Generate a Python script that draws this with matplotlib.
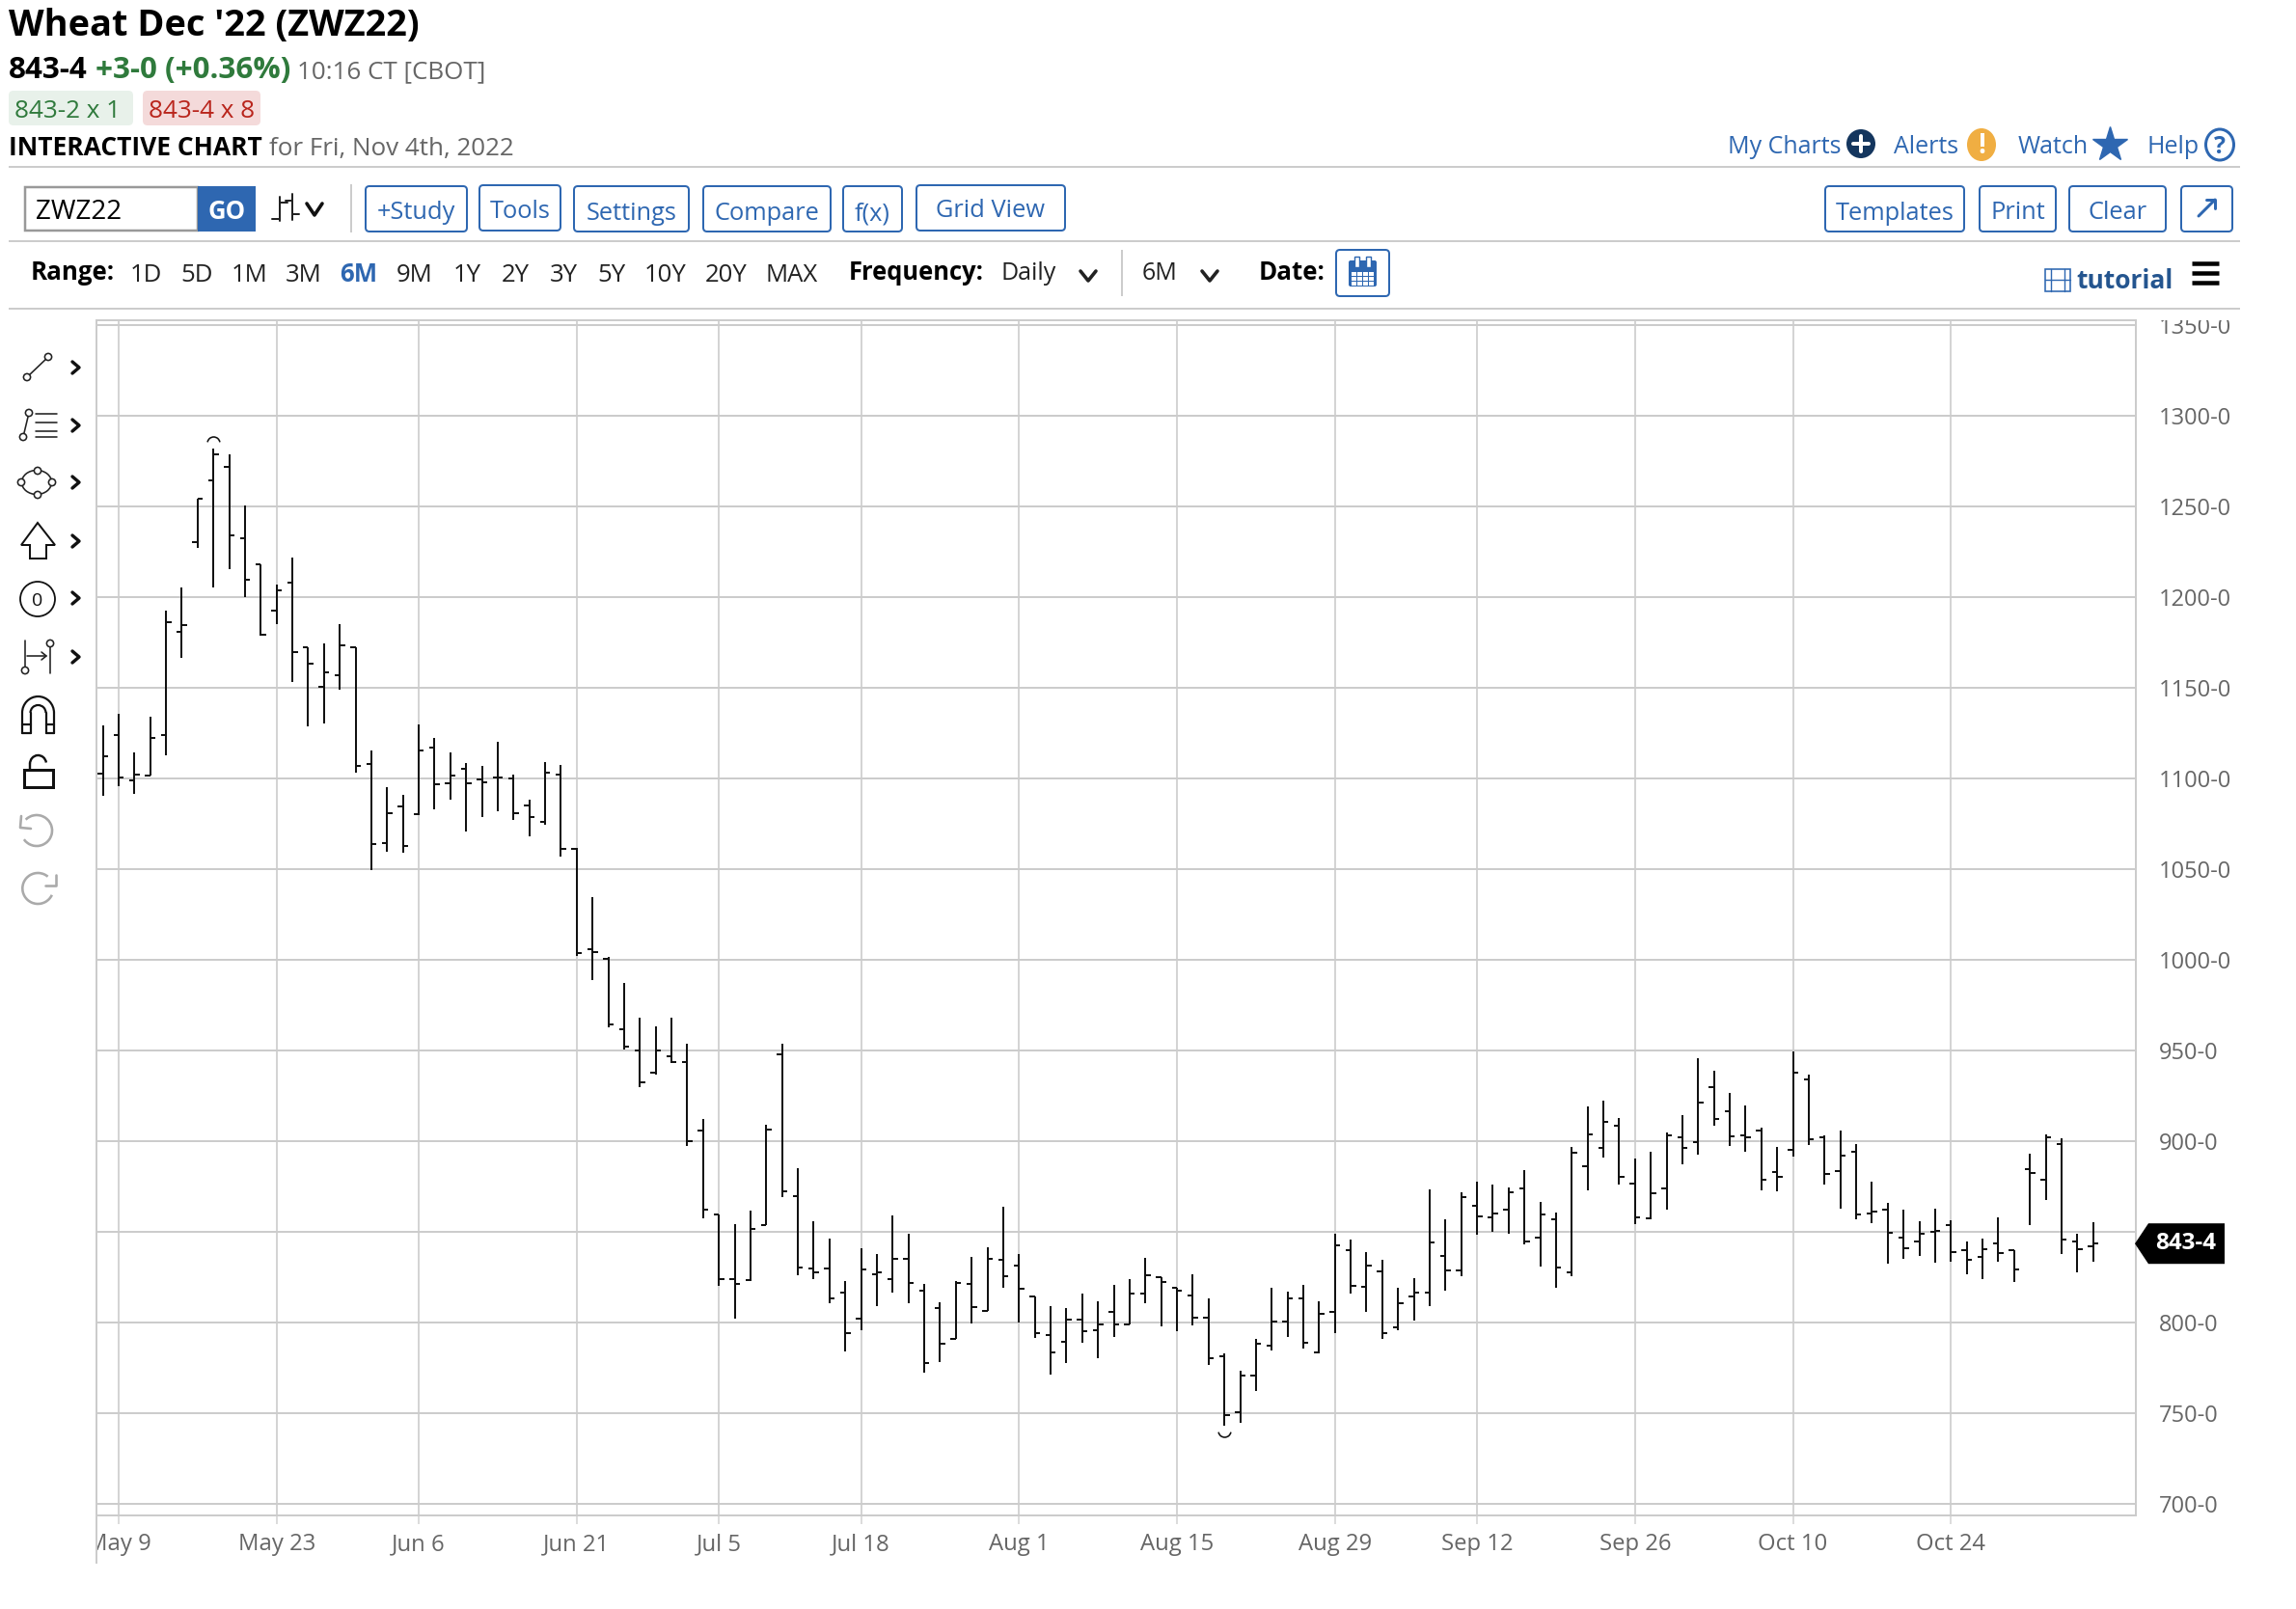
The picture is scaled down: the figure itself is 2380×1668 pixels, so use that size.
import matplotlib
matplotlib.use('Agg')
import matplotlib.pyplot as plt
from matplotlib.patches import Rectangle, FancyBboxPatch, Circle, Ellipse, Polygon, Arc
from matplotlib.path import Path
from matplotlib.transforms import IdentityTransform

plt.rcParams['font.family'] = ['Open Sans', 'DejaVu Sans']

# Daily bars, May 6 to Nov 4 2022
opens = [1102.4, 1123.9, 1098.7, 1101.7, 1123.9, 1180.6, 1230.4, 1264.6, 1272.0, 1232.5,
         1218.1, 1192.8, 1208.0, 1172.2, 1150.3, 1156.8, 1172.2, 1108.1, 1064.5, 1084.5,
         1080.1, 1117.0, 1097.6, 1105.4, 1099.6, 1100.3, 1099.9, 1084.9, 1075.8, 1102.1,
         1061.3, 1005.8, 1000.6, 961.9, 950.0, 938.0, 946.7, 943.7, 905.7, 859.6,
         824.0, 823.2, 853.9, 948.1, 869.9, 830.0, 830.0, 816.7, 802.3, 826.6,
         824.1, 835.0, 817.5, 808.0, 791.1, 821.1, 806.5, 834.4, 831.5, 814.3,
         792.9, 789.5, 801.6, 796.0, 806.0, 798.9, 816.1, 824.8, 819.1, 814.7,
         802.5, 781.4, 750.7, 770.9, 787.0, 800.3, 813.1, 783.7, 805.7, 840.1,
         819.7, 828.2, 797.1, 814.3, 816.3, 836.7, 828.7, 864.5, 857.8, 862.2,
         873.7, 846.6, 857.1, 827.5, 886.4, 896.5, 908.7, 876.8, 857.3, 874.1,
         902.3, 899.7, 929.8, 916.3, 903.2, 905.9, 883.2, 895.2, 933.9, 902.3,
         883.7, 894.2, 859.9, 862.1, 847.0, 844.5, 850.2, 853.7, 839.9, 836.2,
         843.5, 839.7, 884.4, 878.6, 898.4, 844.7, 841.9]
highs = [1129.3, 1135.9, 1114.3, 1134.3, 1192.3, 1205.5, 1254.5, 1281.7, 1278.9, 1250.7,
         1218.1, 1207.1, 1221.9, 1172.2, 1174.7, 1185.3, 1172.2, 1115.5, 1095.0, 1091.2,
         1129.9, 1122.6, 1114.1, 1108.6, 1106.8, 1120.0, 1102.2, 1088.1, 1109.2, 1107.7,
         1061.5, 1034.8, 1001.6, 987.0, 968.2, 963.1, 968.2, 953.9, 912.4, 859.6,
         854.1, 861.7, 909.2, 953.6, 884.9, 855.6, 846.5, 822.8, 841.2, 837.6,
         858.9, 848.8, 821.5, 811.4, 822.8, 836.1, 841.6, 863.6, 838.0, 814.3,
         808.8, 807.8, 815.8, 811.9, 820.9, 823.9, 835.6, 824.8, 819.3, 826.8,
         813.3, 783.1, 773.4, 791.1, 819.3, 817.2, 820.9, 811.9, 848.7, 845.9,
         839.0, 834.6, 819.1, 824.4, 873.2, 856.9, 872.0, 877.8, 875.9, 874.3,
         884.2, 866.3, 860.8, 896.6, 919.3, 922.4, 912.6, 890.4, 894.3, 904.6,
         914.2, 945.6, 938.7, 926.8, 919.5, 907.5, 896.6, 949.5, 936.5, 903.4,
         906.0, 898.4, 877.5, 865.8, 862.4, 855.7, 862.6, 856.2, 844.5, 846.1,
         857.8, 839.9, 892.9, 903.7, 901.8, 848.8, 855.2]
lows = [1090.4, 1096.0, 1091.6, 1101.5, 1113.0, 1166.7, 1227.2, 1205.4, 1215.5, 1199.9,
        1178.8, 1185.2, 1153.3, 1128.5, 1130.4, 1149.0, 1103.3, 1049.3, 1059.4, 1059.2,
        1079.9, 1082.8, 1088.2, 1070.9, 1078.7, 1082.0, 1076.9, 1067.9, 1074.6, 1056.7,
        1002.2, 988.9, 962.7, 950.7, 929.7, 936.5, 943.3, 897.4, 857.3, 820.3,
        802.3, 823.0, 853.7, 869.3, 825.8, 823.8, 810.7, 783.9, 795.9, 808.8,
        816.7, 810.8, 772.5, 778.4, 790.9, 799.6, 806.3, 819.0, 800.2, 791.5,
        771.3, 777.6, 789.0, 780.3, 792.0, 798.7, 810.4, 797.7, 795.0, 798.4,
        776.6, 742.9, 744.7, 762.2, 784.6, 792.0, 785.4, 783.1, 794.1, 816.0,
        805.8, 790.9, 795.7, 801.0, 809.0, 817.5, 825.7, 848.2, 850.0, 849.1,
        843.2, 830.7, 819.2, 825.4, 872.9, 891.0, 875.9, 854.1, 857.1, 862.1,
        887.4, 892.7, 908.3, 897.5, 894.2, 873.1, 872.5, 891.5, 897.9, 876.3,
        863.0, 857.1, 855.0, 832.6, 835.3, 836.7, 832.8, 833.3, 826.8, 824.0,
        833.3, 822.5, 853.7, 867.7, 837.6, 827.7, 833.7]
closes = [1112.2, 1100.5, 1101.9, 1122.4, 1186.4, 1184.8, 1254.1, 1278.7, 1234.1, 1209.8,
          1179.1, 1203.6, 1169.9, 1163.4, 1158.6, 1173.5, 1106.8, 1063.8, 1081.0, 1062.9,
          1115.2, 1096.6, 1101.5, 1097.1, 1098.0, 1100.5, 1081.1, 1078.5, 1103.1, 1061.1,
          1003.7, 1004.2, 964.4, 952.1, 932.7, 950.2, 943.5, 900.2, 862.5, 823.8,
          821.3, 851.8, 906.3, 872.3, 830.4, 827.5, 813.3, 794.0, 829.3, 827.9,
          835.1, 821.7, 777.6, 788.4, 821.9, 808.4, 835.1, 825.6, 818.8, 794.0,
          783.3, 801.6, 795.0, 799.1, 799.1, 815.9, 826.0, 822.5, 817.5, 802.5,
          780.3, 748.9, 770.7, 788.1, 800.3, 813.1, 788.8, 805.0, 842.5, 820.0,
          831.2, 793.9, 810.6, 816.6, 844.0, 828.7, 869.3, 858.5, 860.3, 872.0,
          844.7, 859.8, 830.3, 893.6, 903.7, 910.7, 880.3, 857.8, 871.5, 903.2,
          896.1, 921.5, 912.1, 902.9, 902.0, 878.9, 880.2, 938.0, 900.9, 882.1,
          892.2, 859.6, 861.0, 849.5, 841.1, 849.1, 850.5, 838.7, 834.6, 840.4,
          838.5, 829.1, 882.3, 902.3, 845.9, 840.4, 843.6]

date_ticks = [1, 11, 20, 30, 39, 48, 58, 68, 78, 87, 97, 107, 117]
date_labels = ['May 9', 'May 23', 'Jun 6', 'Jun 21', 'Jul 5', 'Jul 18', 'Aug 1', 'Aug 15',
               'Aug 29', 'Sep 12', 'Sep 26', 'Oct 10', 'Oct 24']
price_ticks = [700, 750, 800, 850, 900, 950, 1000, 1050, 1100, 1150, 1200, 1250, 1300, 1350]
last_price = 843.5

range_labels = ['1D', '5D', '1M', '3M', '6M', '9M', '1Y', '2Y', '3Y', '5Y', '10Y', '20Y', 'MAX']
range_centers = [151, 204, 259, 315, 372, 430, 484, 534, 584, 634, 690, 753, 821]

W, H = 2380, 1668
BLUE = '#2e67b1'
GREY = '#cccccc'
TXT = '#666666'
PX = 0.72  # one pixel in points at dpi 100

fig = plt.figure(figsize=(W / 100, H / 100), dpi=100, facecolor='white')

# chart area, pixel box of the plot frame
fx0, fx1, fy0, fy1 = 100, 2214, 332, 1571
ax = fig.add_axes([fx0 / W, 1 - fy1 / H, (fx1 - fx0) / W, (fy1 - fy0) / H], zorder=1)
step = (2022.3 - 123) / 116
ax.set_xlim(1 + (fx0 - 123) / step, 1 + (fx1 - 123) / step)
per_px = 50 / 94
ax.set_ylim(700 - (fy1 - 1559) * per_px, 1350 + (337 - fy0) * per_px)

for s in ax.spines.values():
    s.set_color(GREY)
    s.set_linewidth(2 * PX)

ax.set_yticks(price_ticks)
ax.set_yticklabels(['%d-0' % p for p in price_ticks])
ax.yaxis.tick_right()
ax.tick_params(axis='y', length=0, pad=17, labelsize=17, labelcolor=TXT)
ax.set_xticks(date_ticks)
ax.set_xticklabels(date_labels)
ax.tick_params(axis='x', length=9 * PX, width=1.6 * PX, color='#d4d4d4', pad=6.5, labelsize=17.2, labelcolor=TXT)
ax.grid(axis='y', color=GREY, linewidth=2 * PX)
ax.grid(axis='x', color='#d4d4d4', linewidth=2 * PX)
ax.set_axisbelow(True)

# labels are cut by the frame on the left and at the top
keep = Rectangle((fx0, 0), W, H - fy0, transform=IdentityTransform())
for lab in ax.get_xticklabels() + ax.get_yticklabels():
    lab.set_clip_path(keep)
    lab.set_clip_on(True)
for lab in ax.get_yticklabels():
    lab.set_verticalalignment('center_baseline')

idx = list(range(len(closes)))
tick = 0.33
ax.vlines(idx, lows, highs, color='#111111', linewidth=2 * PX, zorder=3)
ax.hlines(opens, [i - tick for i in idx], idx, color='#111111', linewidth=2 * PX, zorder=3)
ax.hlines(closes, idx, [i + tick for i in idx], color='#111111', linewidth=2 * PX, zorder=3)

# little arcs on the highest high and the lowest low
hi = highs.index(max(highs))
lo = lows.index(min(lows))
ax.plot([hi], [highs[hi] + 3.4], marker=Path.arc(10, 170), markersize=13 * PX, markerfacecolor='none',
        markeredgecolor='#111111', markeredgewidth=1.6 * PX, linestyle='none', zorder=3)
ax.plot([lo], [lows[lo] - 2.7], marker=Path.arc(190, 350), markersize=13 * PX, markerfacecolor='none',
        markeredgecolor='#111111', markeredgewidth=1.6 * PX, linestyle='none', zorder=3)

# page furniture, drawn in image pixels
ui = fig.add_axes([0, 0, 1, 1], zorder=5)
ui.set_xlim(0, W)
ui.set_ylim(H, 0)
ui.axis('off')
ui.patch.set_alpha(0)


def t(x, y, s, size=18.3, color='#000000', weight='normal', ha='left', va='baseline'):
    return ui.text(x, y, s, fontsize=size, color=color, fontweight=weight, ha=ha, va=va)


def hline(x0, x1, y, color=GREY, lw=2):
    ui.plot([x0, x1], [y, y], color=color, linewidth=lw * PX, solid_capstyle='butt')


def box(x0, x1, y0, y1, face='none', edge='none', lw=2, r=4):
    ui.add_patch(FancyBboxPatch((x0 + r, y0 + r), x1 - x0 - 2 * r, y1 - y0 - 2 * r,
                                boxstyle='round,pad=%d,rounding_size=%d' % (r, r),
                                facecolor=face, edgecolor=edge, linewidth=lw * PX))


def button(x0, x1, label, y0=193, y1=240, ty=226):
    box(x0, x1, y0, y1, edge=BLUE)
    t((x0 + x1) / 2, ty, label, color=BLUE, ha='center')


def line(xs, ys, color='#222222', lw=1.6):
    ui.plot(xs, ys, color=color, linewidth=lw * PX, solid_capstyle='round')


def dot(x, y, r=3.6, color='#222222'):
    ui.add_patch(Circle((x, y), r, facecolor='white', edgecolor=color, linewidth=1.6 * PX, zorder=4))


def chevron_down(x, y, w=8, h=6, color='#111111'):
    line([x - w, x, x + w], [y - h, y + h, y - h], color=color, lw=3.6)


# header
t(9, 37, "Wheat Dec '22 (ZWZ22)", size=27.3, weight='bold')
t(9, 81, '843-4', size=22.6, weight='bold')
t(99, 81, '+3-0 (+0.36%)', size=22.6, color='#2f7a3c', weight='bold')
t(308, 81, '10:16 CT [CBOT]', size=18.7, color=TXT)
box(9, 138, 94, 130, face='#e8f1ea', r=5)
t(15, 122, '843-2 x 1', size=18.8, color='#2f7a3c')
box(148, 270, 94, 130, face='#f4dada', r=5)
t(154, 122, '843-4 x 8', size=18.8, color='#b9251c')
t(9, 161, 'INTERACTIVE CHART', size=19, weight='bold')
t(279, 161, 'for Fri, Nov 4th, 2022', size=18.7, color=TXT)
hline(9, 2322, 173)
hline(9, 2322, 250)
hline(9, 2322, 320)

# top right links
t(1791, 159, 'My Charts', size=18, color=BLUE)
ui.add_patch(Circle((1929, 149), 15, facecolor='#14365e', edgecolor='none'))
line([1921, 1937], [149, 149], color='white', lw=4)
line([1929, 1929], [141, 157], color='white', lw=4)
t(1963, 159, 'Alerts', size=18, color=BLUE)
ui.add_patch(Ellipse((2054, 150), 30, 34, facecolor='#f0ae42', edgecolor='none'))
t(2054, 159, '!', size=20, color='white', weight='bold', ha='center')
t(2092, 159, 'Watch', size=18, color=BLUE)
ui.plot([2187], [150], marker='*', markersize=27, color=BLUE, markeredgecolor=BLUE)
t(2225, 159, 'Help', size=18, color=BLUE)
ui.add_patch(Ellipse((2301, 150), 29, 32, facecolor='white', edgecolor=BLUE, linewidth=3 * PX))
t(2301, 159, '?', size=18, color=BLUE, weight='bold', ha='center')

# toolbar row
ui.add_patch(Rectangle((26, 194), 179, 45, facecolor='white', edgecolor='#999999', linewidth=2.5 * PX))
t(37, 227, 'ZWZ22', size=20)
ui.add_patch(Rectangle((205, 193), 60, 47, facecolor=BLUE, edgecolor='none'))
t(235, 227, 'GO', size=18.5, color='white', weight='bold', ha='center')
line([290, 290], [204, 229], lw=2)
line([303, 303], [201, 228], lw=2)
line([282, 290], [227, 227], lw=2)
line([290, 298], [210, 210], lw=2)
line([296, 303], [208, 208], lw=2)
line([303, 310], [222, 222], lw=2)
chevron_down(326, 217)
ui.plot([364, 364], [192, 240], color=GREY, linewidth=2 * PX)
button(379, 484, '+Study', ty=227)
button(497, 581, 'Tools', y0=192, y1=239, ty=226)
button(595, 714, 'Settings', ty=228)
button(729, 861, 'Compare', ty=228)
button(874, 935, 'f(x)', ty=228)
button(950, 1104, 'Grid View', y0=192, y1=239, ty=225)
button(1892, 2036, 'Templates', ty=228)
button(2052, 2131, 'Print', ty=227)
button(2145, 2245, 'Clear', ty=227)
box(2261, 2314, 193, 240, edge=BLUE)
line([2279, 2296], [224, 207], color=BLUE, lw=3)
line([2287, 2296, 2296], [207, 207, 216], color=BLUE, lw=3)

# range row
t(32, 290, 'Range:', size=18.6, weight='bold')
for lab, cx in zip(range_labels, range_centers):
    if lab == '6M':
        t(cx, 292, lab, size=18.5, color=BLUE, weight='bold', ha='center')
    else:
        t(cx, 292, lab, size=18.5, color='#222222', ha='center')
t(880, 290, 'Frequency:', size=18.4, weight='bold')
t(1037, 290, 'Daily', size=18, color='#222222')
chevron_down(1128, 286, w=8, h=5, color='#222222')
ui.plot([1163, 1163], [260, 306], color=GREY, linewidth=2 * PX)
t(1184, 290, '6M', size=18, color='#222222')
chevron_down(1254, 286, w=8, h=5, color='#222222')
t(1305, 290, 'Date:', size=18.6, weight='bold')
box(1385, 1440, 259, 307, edge=BLUE)
ui.add_patch(FancyBboxPatch((1400, 272), 25, 23, boxstyle='round,pad=2,rounding_size=2', facecolor=BLUE, edgecolor='none'))
for rx in (1406, 1418):
    ui.add_patch(Rectangle((rx - 2.5, 266), 5, 11, facecolor='white', edgecolor=BLUE, linewidth=1.4 * PX))
for col in range(4):
    for row in range(3):
        ui.add_patch(Rectangle((1400.5 + col * 6.3, 282 + row * 5.1), 5, 4, facecolor='white', edgecolor='none'))
ui.add_patch(Rectangle((2120, 279), 26, 23, facecolor='none', edgecolor=BLUE, linewidth=1.6 * PX))
line([2126, 2126], [279, 302], color=BLUE, lw=1.4)
line([2140, 2140], [279, 302], color=BLUE, lw=1.4)
line([2120, 2146], [290, 290], color=BLUE, lw=1.4)
t(2152, 299, 'tutorial', size=19, color='#24558f', weight='bold')
for by in (273, 283, 293):
    ui.plot([2272, 2300], [by, by], color='black', linewidth=4.5 * PX, solid_capstyle='butt')

# drawing tools down the left side
for cy in (381, 441, 500, 561, 620, 681):
    line([75, 82, 75], [cy - 6, cy, cy + 6], color='#111111', lw=3.4)
line([28, 50], [391, 370])
dot(28, 391)
dot(50, 370)
line([24, 30], [453, 428])
dot(24, 453)
dot(30, 428)
for ly in (429, 438, 447, 453):
    line([37, 59], [ly, ly])
ui.add_patch(Ellipse((38, 500), 31, 25, facecolor='none', edgecolor='#222222', linewidth=1.6 * PX))
for cx, cy in ((39, 488), (22, 500), (54, 500), (39, 513)):
    dot(cx, cy)
ui.add_patch(Polygon([(39, 542), (22, 565), (31, 565), (31, 579), (48, 579), (48, 565), (57, 565)],
                     closed=True, facecolor='white', edgecolor='#111111', linewidth=2 * PX, joinstyle='miter'))
ui.add_patch(Ellipse((39, 621), 36, 36, facecolor='white', edgecolor='#111111', linewidth=1.8 * PX))
t(39, 628, '0', size=14, color='#111111', ha='center')
line([26, 26], [664, 691])
dot(26, 695)
line([28, 48], [680, 680])
line([43, 48, 43], [676, 680, 684])
line([52, 52], [671, 698])
dot(52, 667)
# magnet
ui.add_patch(Arc((39.5, 739), 33, 34, theta1=180, theta2=360, edgecolor='#111111', linewidth=2.2 * PX))
ui.add_patch(Arc((39.5, 739), 16, 16, theta1=180, theta2=360, edgecolor='#111111', linewidth=2.2 * PX))
for lx in (23, 31.5, 47.5, 56):
    line([lx, lx], [739, 760], color='#111111', lw=2.2)
line([23, 31.5], [760, 760], color='#111111', lw=2.2)
line([47.5, 56], [760, 760], color='#111111', lw=2.2)
line([23, 31.5], [751, 751], color='#111111', lw=2.2)
line([47.5, 56], [751, 751], color='#111111', lw=2.2)
# lock
ui.add_patch(Rectangle((24.5, 798), 30, 18, facecolor='none', edgecolor='#111111', linewidth=3 * PX))
ui.add_patch(Arc((39.5, 792), 17, 18, theta1=180, theta2=350, edgecolor='#111111', linewidth=2.4 * PX))
line([31, 31], [792, 798], color='#111111', lw=2.4)
# undo and redo
ui.add_patch(Arc((38, 861), 32, 32, theta1=225, theta2=145, edgecolor='#aaaaaa', linewidth=2.6 * PX))
line([22, 21, 32], [846, 858, 859], color='#aaaaaa', lw=2.6)
ui.add_patch(Arc((39.3, 921), 32, 32, theta1=25, theta2=310, edgecolor='#aaaaaa', linewidth=2.6 * PX))
line([58, 58, 47], [907, 918, 918], color='#aaaaaa', lw=2.6)

# frame runs on below the date axis
ui.plot([100, 100], [1571, 1621], color=GREY, linewidth=2 * PX, solid_capstyle='butt')

# last price flag, placed from the price scale
flag_y = fy1 - (last_price - ax.get_ylim()[0]) / per_px
ui.add_patch(Polygon([(2213, flag_y), (2227, flag_y - 21), (2306, flag_y - 21), (2306, flag_y + 21), (2227, flag_y + 21)],
                     closed=True, facecolor='black', edgecolor='none', zorder=6))
t(2266, flag_y, '843-4', size=17.5, color='white', weight='bold', ha='center', va='center').set_zorder(7)

fig.savefig('out.png', dpi=100)
